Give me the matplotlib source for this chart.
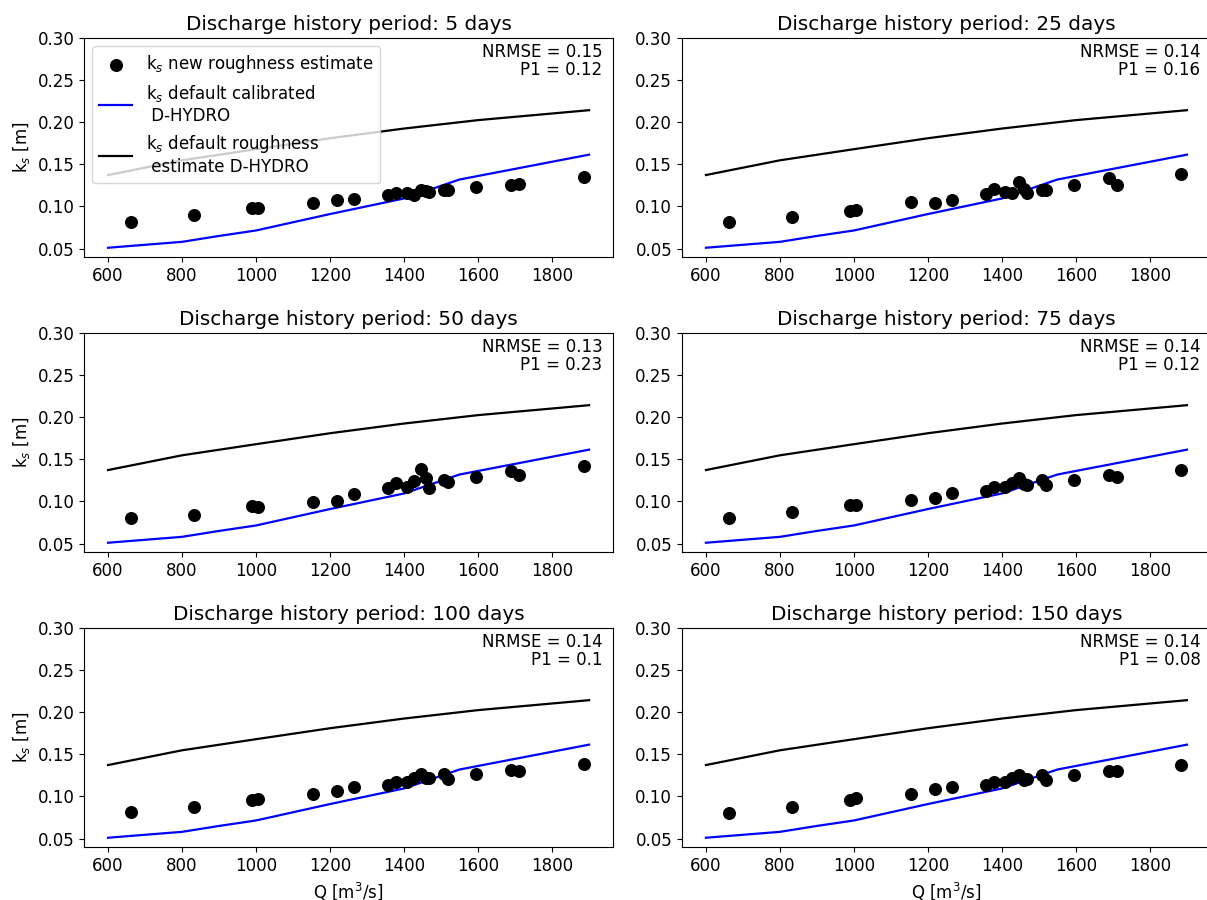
import matplotlib
matplotlib.use("Agg")
import matplotlib.pyplot as plt

plt.rcParams['font.size'] = 12

# Discharge values of the roughness estimates
Q_pts = [663, 832, 988, 1005, 1154, 1220, 1265, 1356, 1378, 1408,
         1427, 1445, 1460, 1468, 1507, 1518, 1594, 1690, 1710, 1885]

periods = [5, 25, 50, 75, 100, 150]

ks_5 = [0.081, 0.0897, 0.0976, 0.0984, 0.1044, 0.1075, 0.1083, 0.1139, 0.1163, 0.1163,
        0.1135, 0.119, 0.1185, 0.117, 0.1194, 0.1194, 0.1226, 0.1254, 0.127, 0.135]
ks_25 = [0.081, 0.0877, 0.0952, 0.096, 0.105, 0.1036, 0.108, 0.1147, 0.1206, 0.117,
         0.1159, 0.129, 0.121, 0.1155, 0.119, 0.120, 0.126, 0.1333, 0.126, 0.1389]
ks_50 = [0.0806, 0.0845, 0.0944, 0.0937, 0.0988, 0.1008, 0.1083, 0.1155, 0.1218, 0.1167,
         0.1242, 0.138, 0.1274, 0.1159, 0.1258, 0.1234, 0.1294, 0.136, 0.1313, 0.142]
ks_75 = [0.0806, 0.0869, 0.0956, 0.0956, 0.1012, 0.104, 0.1095, 0.1123, 0.1175, 0.117,
         0.1222, 0.1274, 0.121, 0.119, 0.1254, 0.120, 0.126, 0.131, 0.1294, 0.137]
ks_100 = [0.0813, 0.0873, 0.0956, 0.0972, 0.1024, 0.1063, 0.1107, 0.1131, 0.1175, 0.1175,
          0.1222, 0.127, 0.1214, 0.1214, 0.127, 0.1202, 0.1262, 0.131, 0.1298, 0.138]
ks_150 = [0.0806, 0.0877, 0.096, 0.0976, 0.1032, 0.1083, 0.1107, 0.1135, 0.1167, 0.1175,
          0.1218, 0.125, 0.1194, 0.121, 0.126, 0.120, 0.126, 0.130, 0.130, 0.137]
ks_new = [ks_5, ks_25, ks_50, ks_75, ks_100, ks_150]

nrmse = ["0.15", "0.14", "0.13", "0.14", "0.14", "0.14"]
p1 = ["0.12", "0.16", "0.23", "0.12", "0.1", "0.08"]

# default calibrated D-HYDRO roughness
Q_cal = [600, 800, 900, 1000, 1200, 1400, 1550, 1900]
ks_cal = [0.051, 0.058, 0.065, 0.0715, 0.091, 0.1095, 0.132, 0.1615]

# default roughness estimate D-HYDRO
Q_def = [600, 800, 1000, 1200, 1400, 1600, 1900]
ks_def = [0.1373, 0.1548, 0.168, 0.181, 0.1925, 0.2025, 0.2143]

fig, axes = plt.subplots(3, 2, figsize=(12.07, 9), dpi=100)
fig.subplots_adjust(left=84/1207, right=1211/1207, top=1-38/900, bottom=1-847/900,
                    wspace=0.130, hspace=0.347)

for i, ax in enumerate(axes.flat):
    ax.scatter(Q_pts, ks_new[i], s=70, color='black', zorder=3,
               label='k$_s$ new roughness estimate')
    ax.plot(Q_cal, ks_cal, color='blue', lw=1.6,
            label='k$_s$ default calibrated\n D-HYDRO')
    ax.plot(Q_def, ks_def, color='black', lw=1.6,
            label='k$_s$ default roughness\n estimate D-HYDRO')
    ax.set_ylim(0.04, 0.30)
    ax.set_yticks([0.05, 0.10, 0.15, 0.20, 0.25, 0.30])
    ax.set_xticks([600, 800, 1000, 1200, 1400, 1600, 1800])
    ax.set_title(f"Discharge history period: {periods[i]} days", fontsize=14.4)
    ax.text(0.98, 0.975, f"NRMSE = {nrmse[i]}\nP1 = {p1[i]}", transform=ax.transAxes,
            ha='right', va='top', fontsize=12, linespacing=1.0)
    if i % 2 == 0:
        ax.set_ylabel('k$_s$ [m]')
    if i >= 4:
        ax.set_xlabel('Q [m$^3$/s]')
    if i == 0:
        ax.legend(loc='upper left')

fig.savefig('out.png', dpi=100)
